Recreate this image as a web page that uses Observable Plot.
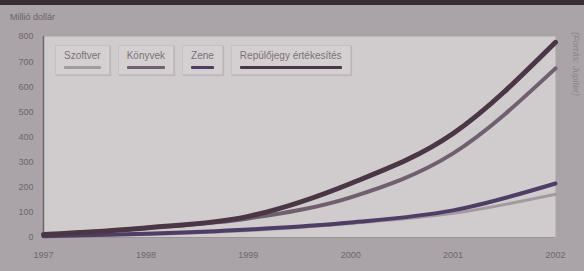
<!DOCTYPE html>
<html><head><meta charset="utf-8">
<script src="https://cdn.jsdelivr.net/npm/d3@7"></script>
<script src="https://cdn.jsdelivr.net/npm/@observablehq/plot@0.6"></script>
<style>
html,body{margin:0;padding:0;background:#a9a1a5;}
#wrap{position:relative;width:584px;height:271px;overflow:hidden;background:#aaa3a7;font-family:"Liberation Sans",Arial,sans-serif;}
#topband{position:absolute;left:0;top:0;width:584px;height:5px;background:#3a2e34;}
#unit{position:absolute;left:10px;top:12px;font-size:9px;color:#6d6468;}
#src{position:absolute;left:581px;top:32px;font-size:9px;color:#8c8488;transform-origin:0 0;transform:rotate(90deg);white-space:nowrap;font-style:italic;}
#legend{position:absolute;left:55px;top:45px;display:flex;gap:8px;}
.item{background:#d4d0d1;border:1px solid #c4bfc1;padding:4px 8px 5px 8px;font-size:10px;color:#7a7177;box-shadow:1px 1px 1px #bdb7ba;}
.sw{height:3px;margin-top:5px;border-radius:1px;}
</style></head>
<body>
<div id="wrap">
<div id="topband"></div>
<div id="unit">Millió dollár</div>
<div id="chart"></div>
<div id="legend"></div>
<div id="src">(Forrás: Jupiter)</div>
</div>
<script>
const years = [1997, 1998, 1999, 2000, 2001, 2002];
const szoftver = [3, 12, 28, 56, 96, 172];
const konyvek = [10, 38, 76, 160, 335, 673];
const zene = [5, 15, 32, 60, 108, 215];
const repulojegy = [12, 38, 84, 215, 414, 777];
const seriesNames = ["Szoftver", "Könyvek", "Zene", "Repülőjegy értékesítés"];
const seriesColors = ["#a39aa0", "#6f5f6f", "#4e3e66", "#4b3646"];
const seriesWidths = [3, 4, 4, 5];
const yTicks = [0, 100, 200, 300, 400, 500, 600, 700, 800];

const allValues = [szoftver, konyvek, zene, repulojegy];
const rows = [];
allValues.forEach((vals, i) => years.forEach((y, j) => rows.push({series: seriesNames[i], year: y, value: vals[j], idx: i})));

const plot = Plot.plot({
  width: 584, height: 271,
  marginLeft: 43, marginRight: 29, marginTop: 36, marginBottom: 34,
  style: {background: "transparent", fontFamily: "Liberation Sans, Arial, sans-serif", fontSize: "9px", color: "#6f676b"},
  x: {domain: [1997, 2002], ticks: years, tickFormat: d => String(d), tickSize: 0, tickPadding: 14, label: null},
  y: {domain: [0, 800], ticks: yTicks, tickSize: 0, tickPadding: 10, label: null},
  marks: [
    Plot.frame({fill: "#d0cccd", stroke: null}),
    Plot.ruleX([1997], {stroke: "#6e6569", strokeWidth: 1.5}),
    Plot.ruleY([0], {stroke: "#9b9397", strokeWidth: 1}),
    ...seriesNames.map((name, i) => Plot.line(rows.filter(r => r.idx === i), {
      x: "year", y: "value", stroke: seriesColors[i], strokeWidth: seriesWidths[i], curve: "monotone-x", strokeLinecap: "round"
    }))
  ]
});
document.getElementById("chart").appendChild(plot);

const legend = document.getElementById("legend");
seriesNames.forEach((n, i) => {
  const d = document.createElement("div");
  d.className = "item";
  d.innerHTML = `<div>${n}</div><div class="sw" style="background:${seriesColors[i]}"></div>`;
  legend.appendChild(d);
});
</script>
</body></html>
